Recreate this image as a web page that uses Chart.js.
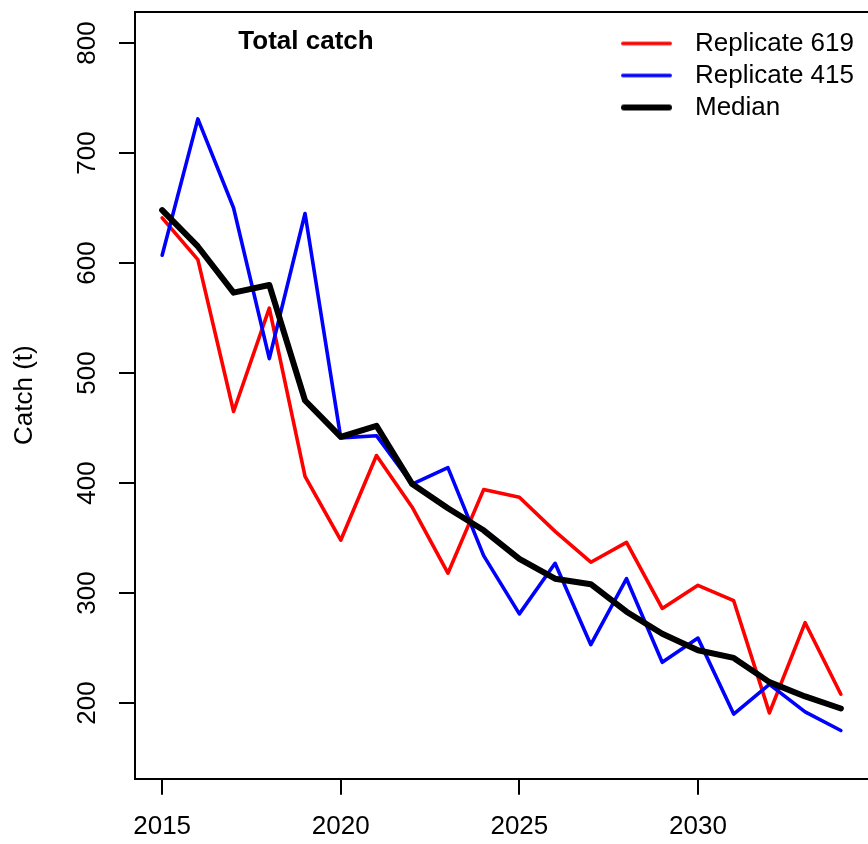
<!DOCTYPE html>
<html>
<head>
<meta charset="utf-8">
<script src="https://cdn.jsdelivr.net/npm/chart.js@4.4.0/dist/chart.umd.min.js"></script>
<style>
html, body { margin: 0; padding: 0; background: #ffffff; }
canvas { display: block; }
</style>
</head>
<body>
<canvas id="c" width="868" height="844"></canvas>
<script>
// ---- data ----
const years = [2015, 2016, 2017, 2018, 2019, 2020, 2021, 2022, 2023, 2024,
               2025, 2026, 2027, 2028, 2029, 2030, 2031, 2032, 2033, 2034];
const rep619 = [641, 603, 465, 559, 406, 348, 425, 378, 318, 394,
                387, 356, 328, 346, 286, 307, 293, 191, 273, 208];
const rep415 = [607, 731, 650, 513, 645, 441, 443, 399, 414, 334,
                281, 327, 253, 313, 237, 259, 190, 217, 192, 175];
const median = [648, 615, 573, 580, 475, 442, 452, 399, 377, 357,
                331, 313, 308, 283, 263, 248, 241, 219, 206, 195];
const xTicks = [2015, 2020, 2025, 2030];
const yTicks = [200, 300, 400, 500, 600, 700, 800];
const seriesNames = ['Replicate 619', 'Replicate 415', 'Median'];
const chartTitle = 'Total catch';
const yTitle = 'Catch (t)';

// ---- styling ----
const FONT = "'Liberation Sans', Arial, Helvetica, sans-serif";
Chart.defaults.font.family = FONT;
Chart.defaults.font.size = 26;
Chart.defaults.color = '#000000';

function swatch(color, lw) {
  const c = document.createElement('canvas');
  c.width = 61; c.height = 12;
  const g = c.getContext('2d');
  g.strokeStyle = color; g.lineWidth = lw; g.lineCap = 'round';
  g.beginPath(); g.moveTo(lw / 2, 6); g.lineTo(51 - lw / 2, 6); g.stroke();
  return c;
}

const toXY = arr => years.map((x, i) => ({ x: x, y: arr[i] }));
const seriesColors = ['#ff0000', '#0000ff', '#000000'];
const seriesWidths = [3.6, 3.6, 6];
const seriesValues = [rep619, rep415, median];

const datasets = seriesValues.map((vals, i) => ({
  label: seriesNames[i],
  data: toXY(vals),
  borderColor: seriesColors[i],
  backgroundColor: seriesColors[i],
  borderWidth: seriesWidths[i],
  order: 2 - i,
  pointStyle: swatch(seriesColors[i], seriesWidths[i]),
  pointRadius: 0,
  pointHoverRadius: 0,
  fill: false,
  tension: 0,
  borderJoinStyle: 'round',
  borderCapStyle: 'round'
}));

const axisGrid = { display: true, drawOnChartArea: false, drawTicks: true, tickLength: 16, color: '#000000', lineWidth: 2 };
const axisBorder = { display: true, color: '#000000', width: 2 };

const titlePlugin = {
  id: 'plotTitle',
  afterDraw(chart) {
    const ctx = chart.ctx;
    const a = chart.chartArea;
    ctx.save();
    ctx.font = 'bold 26px ' + FONT;
    ctx.fillStyle = '#000000';
    ctx.textAlign = 'center';
    ctx.textBaseline = 'alphabetic';
    ctx.fillText(chartTitle, a.left + 171, a.top + 37);
    ctx.restore();
  }
};

const legendPlace = {
  id: 'legendPlace',
  afterLayout(chart) {
    const lg = chart.legend;
    if (!lg) return;
    const a = chart.chartArea;
    lg.left = a.left + 480;
    lg.top = a.top + 13;
    lg.right = a.right;
    lg.bottom = a.bottom;
    lg.width = lg.right - lg.left;
    lg.height = lg.bottom - lg.top;
  }
};

new Chart(document.getElementById('c'), {
  type: 'line',
  data: { datasets: datasets },
  options: {
    responsive: false,
    animation: false,
    devicePixelRatio: 1,
    events: [],
    layout: { padding: 0 },
    plugins: {
      tooltip: { enabled: false },
      title: { display: false },
      legend: {
        display: true,
        position: 'chartArea',
        align: 'start',
        labels: {
          usePointStyle: true,
          pointStyleWidth: 61,
          padding: 6,
          color: '#000000',
          font: { size: 26, family: FONT },
          sort: (a, b) => a.datasetIndex - b.datasetIndex
        }
      }
    },
    scales: {
      x: {
        type: 'linear',
        position: 'bottom',
        min: 2014.24,
        max: 2034.76,
        afterBuildTicks: s => { s.ticks = xTicks.map(v => ({ value: v })); },
        afterFit: s => { s.height = 65.3; s.paddingLeft = 0; s.paddingRight = 0; },
        grid: axisGrid,
        border: axisBorder,
        ticks: {
          padding: 16.7,
          color: '#000000',
          font: { size: 26 },
          autoSkip: false,
          minRotation: 0,
          maxRotation: 0,
          callback: v => String(v)
        }
      },
      x2: {
        type: 'linear',
        position: 'top',
        display: true,
        afterFit: s => { s.height = 11.5; s.paddingLeft = 0; s.paddingRight = 0; },
        grid: { display: false },
        ticks: { display: false },
        border: axisBorder
      },
      y: {
        type: 'linear',
        position: 'left',
        min: 131.2,
        max: 828.6,
        afterBuildTicks: s => { s.ticks = yTicks.map(v => ({ value: v })); },
        afterFit: s => { s.width = 135; s.paddingTop = 0; s.paddingBottom = 0; },
        grid: axisGrid,
        border: axisBorder,
        ticks: {
          padding: 9.3,
          color: '#000000',
          font: { size: 26 },
          autoSkip: false,
          minRotation: 90,
          maxRotation: 90,
          crossAlign: 'center',
          callback: v => String(v)
        },
        title: {
          display: true,
          text: yTitle,
          color: '#000000',
          font: { size: 26 },
          padding: { top: 9.4, bottom: 0 }
        }
      }
    }
  },
  plugins: [titlePlugin, legendPlace]
});
</script>
</body>
</html>
